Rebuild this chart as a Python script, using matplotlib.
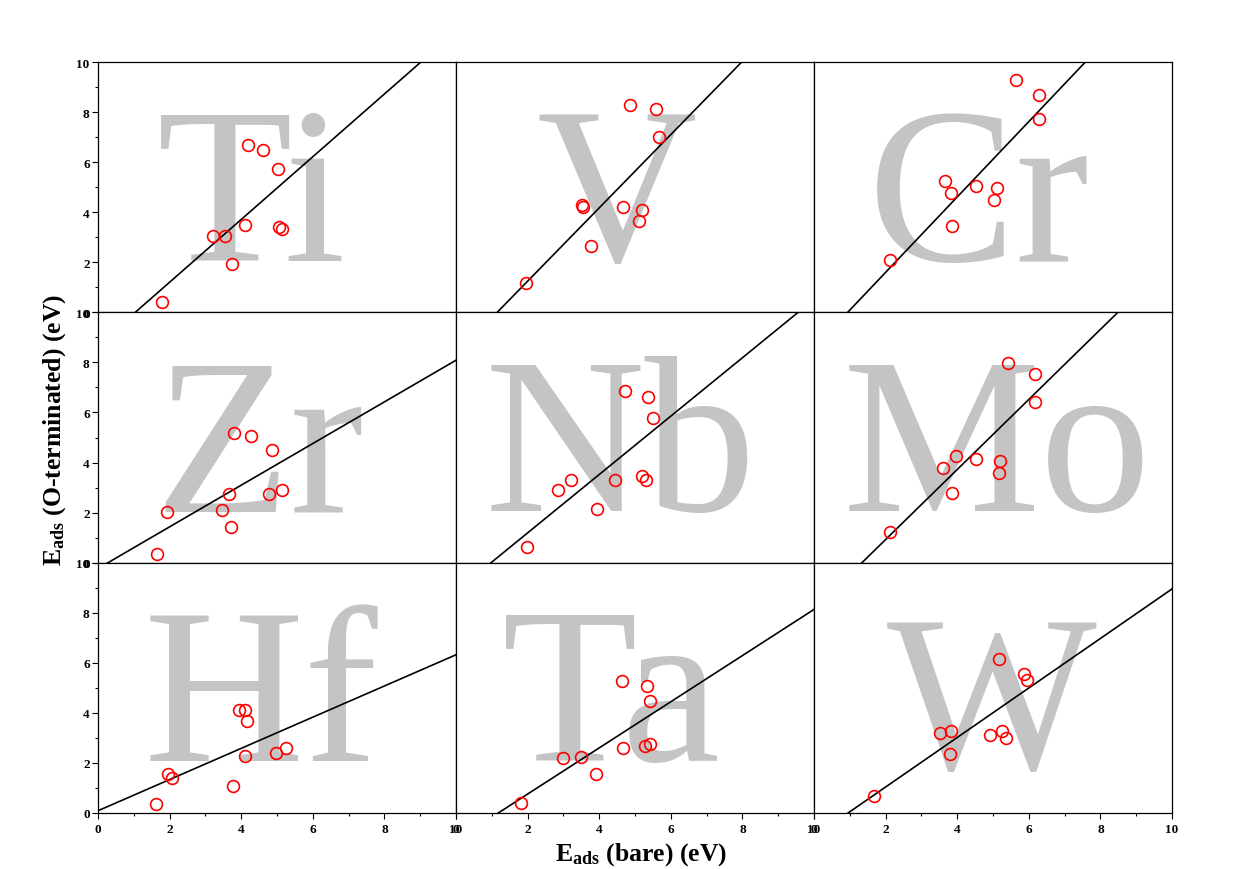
import matplotlib
matplotlib.use("Agg")
import matplotlib.pyplot as plt
import numpy as np

plt.rcParams['font.family'] = ['Liberation Serif', 'DejaVu Serif']
plt.rcParams['mathtext.fontset'] = 'custom'
plt.rcParams['mathtext.rm'] = 'Liberation Serif'
plt.rcParams['mathtext.bf'] = 'Liberation Serif:bold'
plt.rcParams['mathtext.it'] = 'Liberation Serif:italic'

# ---- data ----
elements = ["Ti", "V", "Cr", "Zr", "Nb", "Mo", "Hf", "Ta", "W"]

ti_x = [1.79, 3.21, 3.56, 3.75, 4.10, 4.18, 4.61, 5.02, 5.06, 5.15]
ti_y = [0.40, 3.04, 3.04, 1.94, 3.48, 6.67, 6.50, 5.74, 3.41, 3.33]
v_x = [1.96, 3.52, 3.56, 3.77, 4.67, 4.85, 5.11, 5.19, 5.58, 5.68]
v_y = [1.16, 4.29, 4.22, 2.64, 4.21, 8.30, 3.66, 4.09, 8.12, 7.02]
cr_x = [2.11, 3.66, 3.84, 3.85, 4.52, 5.03, 5.10, 5.65, 6.28, 6.28]
cr_y = [2.10, 5.25, 4.78, 3.43, 5.03, 4.47, 4.95, 9.28, 8.69, 7.72]
zr_x = [1.66, 1.93, 3.46, 3.71, 3.67, 3.81, 4.26, 4.79, 4.87, 5.13]
zr_y = [0.35, 2.02, 2.10, 1.42, 2.73, 5.16, 5.04, 2.75, 4.49, 2.90]
nb_x = [1.98, 2.86, 3.21, 3.93, 4.44, 4.73, 5.19, 5.32, 5.35, 5.51]
nb_y = [0.61, 2.92, 3.31, 2.15, 3.32, 6.85, 3.47, 3.29, 6.60, 5.76]
mo_x = [2.12, 3.60, 3.97, 3.85, 4.53, 5.16, 5.20, 5.42, 6.16, 6.17]
mo_y = [1.24, 3.79, 4.27, 2.78, 4.14, 3.60, 4.06, 7.96, 7.52, 6.41]
hf_x = [1.63, 1.95, 2.07, 3.78, 3.95, 4.12, 4.17, 4.11, 4.98, 5.25]
hf_y = [0.35, 1.56, 1.40, 1.06, 4.10, 4.10, 3.68, 2.27, 2.38, 2.58]
ta_x = [1.81, 2.98, 3.49, 3.92, 4.64, 4.67, 5.28, 5.34, 5.41, 5.43]
ta_y = [0.41, 2.21, 2.23, 1.54, 5.28, 2.58, 2.66, 5.09, 4.48, 2.77]
w_x = [1.67, 3.52, 3.82, 3.80, 4.91, 5.17, 5.26, 5.35, 5.87, 5.94]
w_y = [0.68, 3.20, 3.27, 2.35, 3.11, 6.14, 3.26, 2.99, 5.54, 5.31]

fit_slope = [1.253, 1.464, 1.506, 0.832, 1.166, 1.399, 0.623, 0.922, 0.989]
fit_intercept = [-1.303, -1.684, -1.416, -0.233, -1.143, -1.875, 0.09, -1.088, -0.940]

xs = [ti_x, v_x, cr_x, zr_x, nb_x, mo_x, hf_x, ta_x, w_x]
ys = [ti_y, v_y, cr_y, zr_y, nb_y, mo_y, hf_y, ta_y, w_y]

ticks = [0, 2, 4, 6, 8, 10]
tick_labels = ["0", "2", "4", "6", "8", "10"]

# layout of the big watermark letters (data coordinates)
label_cx = [4.3, 4.5, 4.6, 4.5, 4.6, 5.1, 4.55, 4.35, 4.95]
label_base = [2.1, 2.1, 2.1, 2.1, 2.1, 2.1, 2.1, 2.1, 1.8]

fig = plt.figure(figsize=(12.49, 8.70), dpi=100)
gs = fig.add_gridspec(3, 3, left=98/1249, right=1172/1249,
                      top=1-63/870, bottom=1-814/870, wspace=0, hspace=0)

tick_font = dict(family='Liberation Serif', weight='bold', size=9.5)

for i in range(9):
    r, c = divmod(i, 3)
    ax = fig.add_subplot(gs[r, c])
    ax.set_xlim(0, 10)
    ax.set_ylim(0, 10)
    ax.text(label_cx[i], label_base[i], elements[i], ha='center', va='baseline',
            fontsize=160, color='#c4c4c4', family='Liberation Serif', zorder=1,
            clip_on=True)
    xl = np.array([0.0, 10.0])
    ax.plot(xl, fit_slope[i] * xl + fit_intercept[i], color='black', lw=1.2, zorder=2)
    ax.plot(xs[i], ys[i], linestyle='none', marker='o', markersize=8.5,
            markerfacecolor='none', markeredgecolor='red', markeredgewidth=1.2,
            zorder=3)
    for sp in ax.spines.values():
        sp.set_linewidth(0.9)
        sp.set_color('black')
    if c == 0:
        ax.set_yticks(ticks)
        ax.set_yticklabels(tick_labels, **tick_font)
        ax.set_yticks(np.arange(1, 10, 2), minor=True)
        ax.tick_params(axis='y', which='major', direction='out', length=4, width=0.8, pad=2)
        ax.tick_params(axis='y', which='minor', direction='out', length=2, width=0.8)
    else:
        ax.set_yticks([])
    if r == 2:
        ax.set_xticks(ticks)
        ax.set_xticklabels(tick_labels, **tick_font)
        ax.set_xticks(np.arange(1, 10, 2), minor=True)
        ax.tick_params(axis='x', which='major', direction='out', length=4, width=0.8, pad=3)
        ax.tick_params(axis='x', which='minor', direction='out', length=2, width=0.8)
    else:
        ax.set_xticks([])

fig.text(641 / 1249, 1 - 855 / 870, r'$\mathbf{E_{ads}}$ (bare) (eV)',
         ha='center', va='center', fontsize=18.5, weight='bold')
fig.text(55 / 1249, 1 - 430 / 870, r'$\mathbf{E_{ads}}$ (O-terminated) (eV)',
         ha='center', va='center', rotation=90, fontsize=18.5, weight='bold')

fig.savefig("out.png", dpi=100, facecolor='white')
